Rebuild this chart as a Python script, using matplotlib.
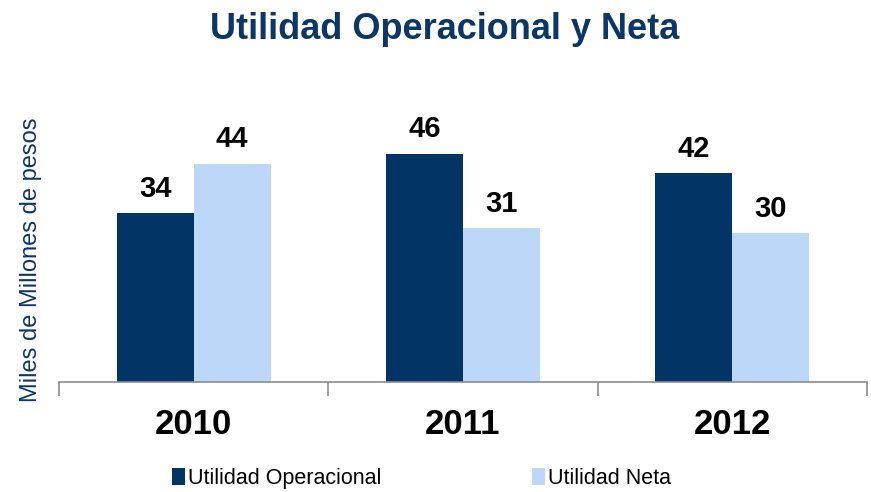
import matplotlib.pyplot as plt
import numpy as np

plt.rcParams['font.family'] = ['Liberation Sans', 'DejaVu Sans']

years = ['2010', '2011', '2012']
operacional = [34, 46, 42]
neta = [44, 31, 30]
series_names = ['Utilidad Operacional', 'Utilidad Neta']

dark = '#023466'
light = '#BDD7F8'
navy_text = '#0B3768'

fig = plt.figure(figsize=(8.71, 4.92), dpi=100)
ax = fig.add_axes([0.0677, 0.2236, 0.9277, 0.6054])

x = np.arange(len(years))
w = 0.286
b1 = ax.bar(x - w / 2, operacional, w, color=dark, label=series_names[0])
b2 = ax.bar(x + w / 2, neta, w, color=light, label=series_names[1])

for bars, vals in ((b1, operacional), (b2, neta)):
    for r, v in zip(bars, vals):
        ax.text(r.get_x() + r.get_width() / 2, v + 3.3, str(v),
                ha='center', va='baseline', fontsize=21, fontweight='bold')

ax.set_xlim(-0.5, len(years) - 0.5)
ax.set_ylim(0, 60)
ax.set_yticks([])
for s in ('top', 'right', 'left'):
    ax.spines[s].set_visible(False)
ax.spines['bottom'].set_color('#8c8c8c')
ax.spines['bottom'].set_linewidth(1.2)

# category separators as ticks on the bottom axis
ax.set_xticks(np.arange(len(years) + 1) - 0.5)
ax.set_xticklabels([])
ax.tick_params(axis='x', length=10, width=1.2, color='#8c8c8c', direction='out')
for i, yr in enumerate(years):
    ax.text(i, -5.2, yr, ha='center', va='top', fontsize=25,
            fontweight='bold', transform=ax.transData)

fig.text(0.511, 0.94, 'Utilidad Operacional y Neta', ha='center', va='center',
         fontsize=26, fontweight='bold', color=navy_text)
fig.text(0.036, 0.472, 'Miles de Millones de pesos', rotation=90,
         ha='center', va='center', fontsize=17, color=navy_text)

leg = fig.legend(handles=[b1, b2], labels=series_names, loc='center',
                 bbox_to_anchor=(0.484, 0.028), ncol=2, frameon=False,
                 fontsize=15.5, handlelength=0.6, handleheight=0.9,
                 handletextpad=0.15, columnspacing=7.0)

fig.savefig('out.png', dpi=100)
